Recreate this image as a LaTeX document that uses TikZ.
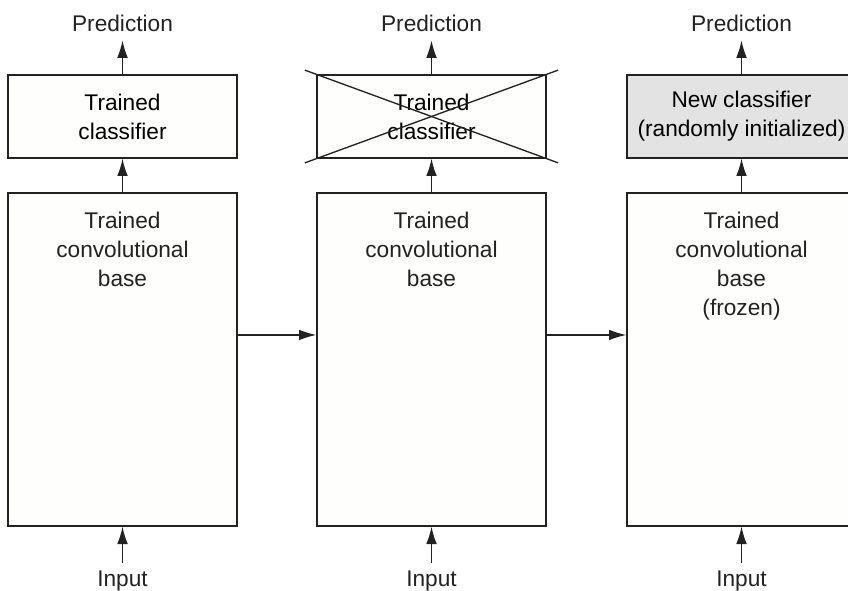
\documentclass[tikz,border=0pt]{standalone}
\usepackage{fontspec}
\setmainfont{Liberation Sans}
\usepackage{xcolor}
\usetikzlibrary{arrows.meta,calc,positioning}
\definecolor{boxfill}{HTML}{FEFEFC}
\definecolor{newgray}{HTML}{E3E3E3}
\definecolor{ink}{HTML}{222222}

\begin{document}
\begin{tikzpicture}[x=0.75pt,y=-0.75pt,
    font=\fontsize{17}{21.75}\selectfont,
    box/.style={draw=ink,line width=1pt,fill=boxfill,align=center,
                minimum width=171.75pt,inner sep=0pt},
    clsbox/.style={box,minimum height=62.25pt},
    basebox/.style={box,minimum height=249.75pt},
    txt/.style={align=center,inner sep=0pt,text=ink},
    pred/.style={anchor=base,inner xsep=0pt,inner ysep=6pt,text=ink},
    inp/.style={anchor=base,inner xsep=0pt,inner ysep=5.6pt,text=ink},
    arr/.style={draw=ink,line width=1pt,-{Latex[length=13pt,width=8pt]}}]
    \useasboundingbox (0,0) rectangle (848,591);

    %Bases
    \node[basebox] (base1) at (122.5,359.5) {};
    \node[basebox] (base2) at (431.5,359.5) {};
    \node[basebox] (base3) at (741.5,359.5) {};
    \node[txt, below=14.6pt of base1.north] (base1txt) {Trained\\convolutional\\base};
    \node[txt, below=14.6pt of base2.north] (base2txt) {Trained\\convolutional\\base};
    \node[txt, below=14.6pt of base3.north] (base3txt) {Trained\\convolutional\\base\\(frozen)};

    %Classifiers
    \node[clsbox] (cls1) at (122.5,116.5) {Trained\\classifier};
    \node[clsbox] (cls2) at (431.5,116.5) {Trained\\classifier};
    \node[clsbox, fill=newgray] (cls3) at (741.5,116.5) {New classifier\\(randomly initialized)};
    \draw[ink, line width=1pt] ($(cls2.north west)!-0.05!(cls2.south east)$) -- ($(cls2.south east)!-0.05!(cls2.north west)$);
    \draw[ink, line width=1pt] ($(cls2.south west)!-0.05!(cls2.north east)$) -- ($(cls2.north east)!-0.05!(cls2.south west)$);

    %Labels
    \node[pred] (pred1) at (122.5,32) {Prediction};
    \node[pred] (pred2) at (431.5,32) {Prediction};
    \node[pred] (pred3) at (741.5,32) {Prediction};
    \node[inp] (in1) at (122.5,586) {Input};
    \node[inp] (in2) at (431.5,586) {Input};
    \node[inp] (in3) at (741.5,586) {Input};

    %Arrows
    \foreach \i in {1,2,3} {
        \draw[arr] (in\i) -- (base\i);
        \draw[arr] (base\i) -- (cls\i);
        \draw[arr] (cls\i) -- (pred\i);
    }
    \draw[arr] ([yshift=18.4pt]base1.east) -- ([yshift=18.4pt]base2.west);
    \draw[arr] ([yshift=18.4pt]base2.east) -- ([yshift=18.4pt]base3.west);
\end{tikzpicture}
\end{document}
